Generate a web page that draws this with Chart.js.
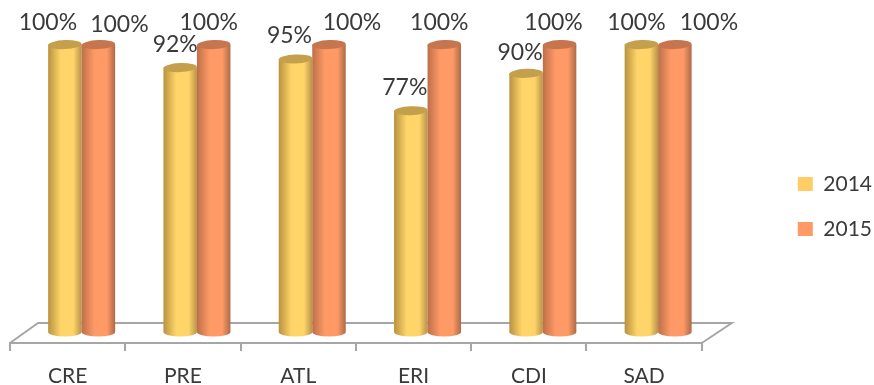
<!DOCTYPE html>
<html>
<head>
<meta charset="utf-8">
<title>CRE PRE ATL ERI CDI SAD</title>
<script src="https://cdn.jsdelivr.net/npm/chart.js@4/dist/chart.umd.js"></script>
<style>
  body { margin: 0; background: #fff; }
  canvas { display: block; }
</style>
</head>
<body>
<canvas id="myChart" width="874" height="385"></canvas>
<script>
const categories = ['CRE', 'PRE', 'ATL', 'ERI', 'CDI', 'SAD'];
const years = ['2014', '2015'];
const values2014 = [100, 92, 95, 77, 90, 100];
const values2015 = [100, 100, 100, 100, 100, 100];

// label offset from the top centre of each cylinder, [dx, dy]
const labelOffsets2014 = [[-17, -22], [-5, -23], [-6, -23], [-6, -23], [-6, -21], [-5, -22]];
const labelOffsets2015 = [[21, -20], [-5, -22], [23, -22], [-5, -22], [-6, -22], [34, -22]];

// how far the cylinders sit back on the floor
const depthX = 14;
const depthY = 11;
const capHeight = 4.5;

const looks = [
  { edgeL: '#b8923f', mid: '#ffd569', edgeR: '#b8934a', cap: '#c4a04c', offsets: labelOffsets2014 },
  { edgeL: '#bd6f49', mid: '#ff9a66', edgeR: '#ad6a48', cap: '#c7754f', offsets: labelOffsets2015 }
];

function drawFloor(chart) {
  const c = chart.ctx, a = chart.chartArea;
  c.save();
  c.strokeStyle = '#a6a6a6';
  c.lineWidth = 2;
  c.beginPath();
  c.moveTo(a.left, a.bottom);
  c.lineTo(a.left + 28, a.bottom - 20);
  c.lineTo(a.right + 30, a.bottom - 20);
  c.lineTo(a.right, a.bottom);
  c.stroke();
  c.restore();
}

function drawCylinder(c, bar, look) {
  const half = bar.width / 2;
  const x = bar.x + depthX;
  const top = bar.y - depthY;
  const bottom = bar.base - depthY;
  const g = c.createLinearGradient(x - half, 0, x + half, 0);
  g.addColorStop(0, look.edgeL);
  g.addColorStop(0.38, look.mid);
  g.addColorStop(0.75, look.mid);
  g.addColorStop(1, look.edgeR);
  c.fillStyle = g;
  c.beginPath();
  c.moveTo(x - half, top);
  c.lineTo(x - half, bottom);
  c.ellipse(x, bottom, half, capHeight, 0, Math.PI, 0, true);
  c.lineTo(x + half, top);
  c.closePath();
  c.fill();
  c.fillStyle = look.cap;
  c.beginPath();
  c.ellipse(x, top, half, capHeight, -0.04, 0, Math.PI * 2);
  c.fill();
}

const cylinders = {
  id: 'cylinders',
  beforeDatasetsDraw(chart) {
    const c = chart.ctx;
    drawFloor(chart);
    c.save();
    looks.forEach((look, d) => {
      chart.getDatasetMeta(d).data.forEach(bar => drawCylinder(c, bar, look));
    });
    c.font = '23px Lato';
    c.fillStyle = '#3a3a3a';
    c.textAlign = 'center';
    c.textBaseline = 'middle';
    looks.forEach((look, d) => {
      chart.getDatasetMeta(d).data.forEach((bar, i) => {
        const off = look.offsets[i];
        const value = chart.data.datasets[d].data[i];
        c.fillText(value + '%', bar.x + depthX + off[0], bar.y - depthY + off[1]);
      });
    });
    c.restore();
    return false;
  }
};

new Chart(document.getElementById('myChart'), {
  type: 'bar',
  data: {
    labels: categories,
    datasets: [
      { label: years[0], data: values2014, backgroundColor: '#ffcc66' },
      { label: years[1], data: values2015, backgroundColor: '#ff9966' }
    ]
  },
  options: {
    responsive: false,
    animation: false,
    events: [],
    barPercentage: 1,
    categoryPercentage: 0.581,
    // negative right padding pushes the legend closer to the canvas edge
    layout: { padding: { top: 28, left: 10, right: -8, bottom: 0 } },
    scales: {
      x: {
        offset: true,
        border: { display: true, color: '#a6a6a6', width: 2 },
        grid: { drawOnChartArea: false, offset: true, color: '#a6a6a6', lineWidth: 2, tickLength: 8 },
        ticks: { color: '#3a3a3a', font: { family: 'Lato', size: 21 }, padding: 13, maxRotation: 0 },
        afterFit(scale) { scale.height = 42; }
      },
      // stays invisible, only keeps the gap between the floor and the legend
      y: {
        position: 'right',
        min: 0,
        max: 109.6,
        border: { display: false },
        grid: { display: false },
        ticks: { display: false },
        afterFit(scale) { scale.width = 72; }
      }
    },
    plugins: {
      tooltip: { enabled: false },
      title: { display: false },
      legend: {
        position: 'right',
        labels: {
          boxWidth: 15,
          boxHeight: 14,
          padding: 24,
          color: '#3a3a3a',
          font: { family: 'Lato', size: 21 }
        }
      }
    }
  },
  plugins: [cylinders]
});
</script>
</body>
</html>
